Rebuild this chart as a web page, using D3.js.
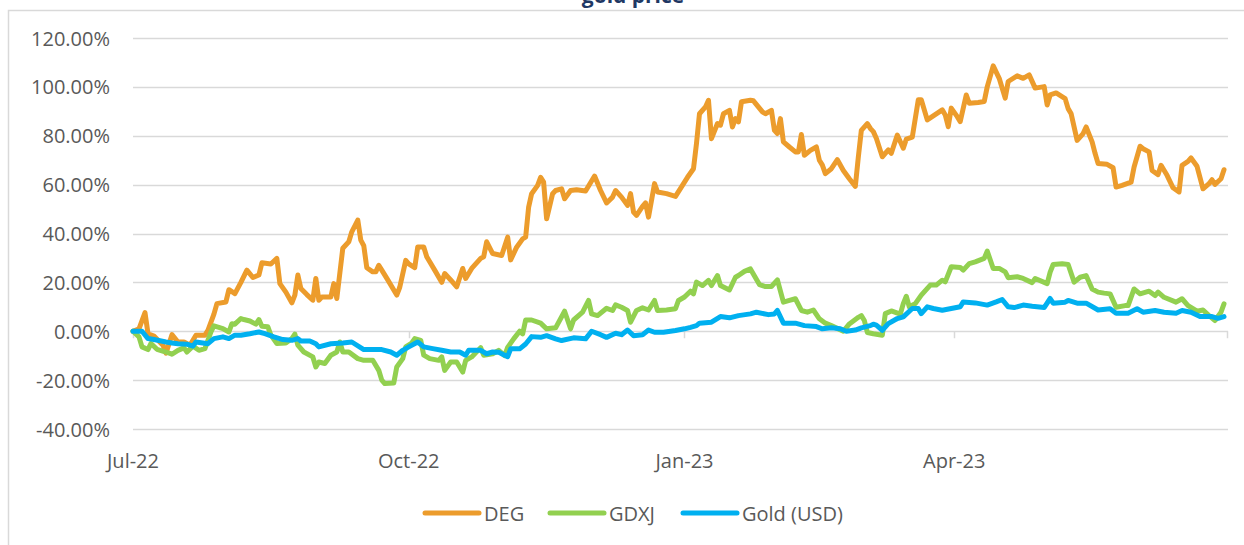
<!DOCTYPE html>
<html>
<head>
<meta charset="utf-8">
<script src="https://cdn.jsdelivr.net/npm/d3@7"></script>
<style>
  html, body { margin: 0; padding: 0; background: #fff; }
  svg { display: block; font-family: "Open Sans", sans-serif; }
</style>
</head>
<body>
<svg width="1244" height="545"></svg>
<script>
// cumulative return (%) since 1 Jul 2022
const deg = [
  ["2022-07-01", 0], ["2022-07-03", 1], ["2022-07-05", 7.6], ["2022-07-06", -1], ["2022-07-08", -2],
  ["2022-07-11", -5.7], ["2022-07-12", -9], ["2022-07-14", -1.4], ["2022-07-16", -4.4], ["2022-07-18", -4.4],
  ["2022-07-20", -5.7], ["2022-07-22", -1.6], ["2022-07-25", -1.6], ["2022-07-26", 0.4], ["2022-07-28", 7],
  ["2022-07-29", 11.3], ["2022-08-01", 12], ["2022-08-02", 17], ["2022-08-04", 15.4], ["2022-08-06", 20],
  ["2022-08-08", 25], ["2022-08-10", 22], ["2022-08-12", 23], ["2022-08-13", 28], ["2022-08-16", 27.5],
  ["2022-08-18", 29.8], ["2022-08-19", 19.5], ["2022-08-21", 16], ["2022-08-23", 11.6], ["2022-08-24", 14.8],
  ["2022-08-25", 23], ["2022-08-26", 17.5], ["2022-08-28", 15], ["2022-08-30", 12.7], ["2022-08-31", 21.6],
  ["2022-09-01", 12.7], ["2022-09-02", 14], ["2022-09-05", 14], ["2022-09-06", 19.5], ["2022-09-07", 13.4],
  ["2022-09-09", 34], ["2022-09-11", 36.6], ["2022-09-12", 40.7], ["2022-09-14", 45.5], ["2022-09-15", 37.3],
  ["2022-09-16", 35], ["2022-09-17", 26], ["2022-09-19", 24.3], ["2022-09-20", 24.3], ["2022-09-21", 27],
  ["2022-09-22", 25], ["2022-09-24", 21], ["2022-09-27", 14.8], ["2022-09-28", 18], ["2022-09-30", 29],
  ["2022-10-01", 27.6], ["2022-10-03", 26], ["2022-10-04", 34.5], ["2022-10-06", 34.5], ["2022-10-07", 30.5],
  ["2022-10-08", 28.4], ["2022-10-10", 24.3], ["2022-10-12", 20], ["2022-10-13", 23.6], ["2022-10-15", 21],
  ["2022-10-17", 18.2], ["2022-10-19", 25.7], ["2022-10-20", 21.6], ["2022-10-22", 25.7], ["2022-10-25", 29.8],
  ["2022-10-26", 30.5], ["2022-10-27", 36.6], ["2022-10-29", 31.8], ["2022-11-01", 31], ["2022-11-03", 38.5],
  ["2022-11-04", 29.2], ["2022-11-06", 34.4], ["2022-11-08", 37.8], ["2022-11-09", 38.5], ["2022-11-10", 50.8],
  ["2022-11-11", 56.3], ["2022-11-13", 59.7], ["2022-11-14", 63], ["2022-11-15", 61], ["2022-11-16", 46],
  ["2022-11-18", 56.3], ["2022-11-19", 57.6], ["2022-11-21", 58.3], ["2022-11-22", 54.2], ["2022-11-24", 57.6],
  ["2022-11-26", 57.9], ["2022-11-29", 57.4], ["2022-12-02", 63.5], ["2022-12-04", 57.6], ["2022-12-06", 52.5],
  ["2022-12-08", 54.9], ["2022-12-09", 57.6], ["2022-12-11", 54.9], ["2022-12-13", 51.5], ["2022-12-14", 56.3],
  ["2022-12-15", 48.8], ["2022-12-16", 47.4], ["2022-12-18", 51.1], ["2022-12-19", 52.5], ["2022-12-20", 46.7],
  ["2022-12-22", 60.4], ["2022-12-23", 57], ["2022-12-26", 56.3], ["2022-12-29", 55.2], ["2023-01-02", 63],
  ["2023-01-04", 66.5], ["2023-01-05", 76.8], ["2023-01-06", 89], ["2023-01-08", 91.8], ["2023-01-09", 94.5],
  ["2023-01-10", 78.8], ["2023-01-12", 85], ["2023-01-13", 84.3], ["2023-01-14", 89], ["2023-01-16", 90.4],
  ["2023-01-17", 83.6], ["2023-01-18", 87], ["2023-01-19", 85.7], ["2023-01-20", 93.9], ["2023-01-23", 94.5],
  ["2023-01-24", 94.3], ["2023-01-27", 89.8], ["2023-01-28", 89], ["2023-01-30", 90.4], ["2023-01-31", 82.2],
  ["2023-02-01", 80.9], ["2023-02-02", 87], ["2023-02-03", 77.5], ["2023-02-05", 75.4], ["2023-02-07", 73.4],
  ["2023-02-08", 73.4], ["2023-02-09", 80.5], ["2023-02-10", 72], ["2023-02-12", 74], ["2023-02-14", 75.4],
  ["2023-02-15", 70], ["2023-02-16", 68], ["2023-02-17", 64.5], ["2023-02-19", 66.5], ["2023-02-21", 70.2],
  ["2023-02-23", 65.8], ["2023-02-25", 62.4], ["2023-02-27", 59.3], ["2023-02-28", 71.3], ["2023-03-01", 82.2],
  ["2023-03-03", 85], ["2023-03-04", 83], ["2023-03-05", 81.7], ["2023-03-06", 79], ["2023-03-08", 71.4],
  ["2023-03-10", 74.2], ["2023-03-11", 72.8], ["2023-03-13", 80.3], ["2023-03-15", 74.9], ["2023-03-16", 78.6],
  ["2023-03-18", 79.4], ["2023-03-20", 94.7], ["2023-03-21", 94.7], ["2023-03-23", 86.5], ["2023-03-25", 88.1],
  ["2023-03-28", 90.6], ["2023-03-29", 88.5], ["2023-03-30", 83.7], ["2023-03-31", 91.3], ["2023-04-02", 87.8],
  ["2023-04-03", 85.8], ["2023-04-05", 96.7], ["2023-04-06", 93.3], ["2023-04-09", 93.6], ["2023-04-11", 94],
  ["2023-04-12", 100], ["2023-04-14", 108.6], ["2023-04-16", 103.5], ["2023-04-18", 95.4], ["2023-04-19", 102.2],
  ["2023-04-22", 104.5], ["2023-04-24", 103.5], ["2023-04-26", 104.9], ["2023-04-28", 99.5], ["2023-05-01", 100.1],
  ["2023-05-02", 92.6], ["2023-05-03", 96.7], ["2023-05-05", 97.5], ["2023-05-08", 95.2], ["2023-05-09", 91.1],
  ["2023-05-10", 89], ["2023-05-12", 78.1], ["2023-05-14", 80.9], ["2023-05-15", 83.6], ["2023-05-17", 77.5],
  ["2023-05-18", 72.7], ["2023-05-19", 68.6], ["2023-05-22", 68.3], ["2023-05-24", 66.9], ["2023-05-25", 59],
  ["2023-05-27", 59.7], ["2023-05-30", 61], ["2023-05-31", 67.2], ["2023-06-02", 75.7], ["2023-06-03", 74.7],
  ["2023-06-05", 73.4], ["2023-06-06", 65.8], ["2023-06-08", 64.1], ["2023-06-09", 67.9], ["2023-06-11", 63.8],
  ["2023-06-13", 58.7], ["2023-06-15", 57], ["2023-06-16", 67.9], ["2023-06-18", 69.5], ["2023-06-19", 70.9],
  ["2023-06-21", 67.5], ["2023-06-23", 58.3], ["2023-06-25", 60.4], ["2023-06-26", 62], ["2023-06-27", 60.1],
  ["2023-06-29", 62.4], ["2023-06-30", 66.1]
];

const gdxj = [
  ["2022-07-01", 0], ["2022-07-03", -2.3], ["2022-07-04", -6.4], ["2022-07-06", -7.5], ["2022-07-07", -5],
  ["2022-07-09", -7.4], ["2022-07-12", -8.5], ["2022-07-14", -9.4], ["2022-07-16", -7.8], ["2022-07-18", -6.8],
  ["2022-07-19", -8.5], ["2022-07-21", -6.1], ["2022-07-23", -7.8], ["2022-07-25", -7.1], ["2022-07-27", -0.3],
  ["2022-07-28", 2.2], ["2022-07-31", 1.1], ["2022-08-02", -0.3], ["2022-08-03", 3.1], ["2022-08-04", 2.9],
  ["2022-08-06", 5.2], ["2022-08-07", 4.8], ["2022-08-09", 4.2], ["2022-08-11", 2.9], ["2022-08-12", 4.8],
  ["2022-08-13", 2], ["2022-08-15", 1.8], ["2022-08-16", -1.6], ["2022-08-18", -5], ["2022-08-21", -4.8],
  ["2022-08-23", -3], ["2022-08-24", -1.2], ["2022-08-25", -5.7], ["2022-08-27", -8.5], ["2022-08-30", -10.5],
  ["2022-08-31", -14.6], ["2022-09-01", -12.6], ["2022-09-03", -13.2], ["2022-09-05", -9.8], ["2022-09-07", -8.5],
  ["2022-09-08", -4.4], ["2022-09-09", -8.5], ["2022-09-11", -8.5], ["2022-09-14", -11.2], ["2022-09-16", -11.9],
  ["2022-09-19", -11.9], ["2022-09-21", -16], ["2022-09-22", -20], ["2022-09-23", -21.4], ["2022-09-26", -21.2],
  ["2022-09-27", -14.6], ["2022-09-29", -11.2], ["2022-09-30", -6.4], ["2022-10-02", -4.8], ["2022-10-03", -3],
  ["2022-10-05", -3.7], ["2022-10-06", -9.8], ["2022-10-08", -11.2], ["2022-10-11", -11.9], ["2022-10-12", -10.5],
  ["2022-10-13", -16], ["2022-10-15", -12.6], ["2022-10-17", -12.6], ["2022-10-19", -16.7], ["2022-10-20", -11.9],
  ["2022-10-22", -10.5], ["2022-10-25", -6.7], ["2022-10-26", -9.8], ["2022-10-29", -9.2], ["2022-10-31", -7.8],
  ["2022-11-02", -10], ["2022-11-03", -6.6], ["2022-11-05", -3.1], ["2022-11-07", 0], ["2022-11-08", -1.1],
  ["2022-11-09", 4.6], ["2022-11-11", 4.6], ["2022-11-14", 3.3], ["2022-11-16", 1], ["2022-11-19", 1.4],
  ["2022-11-22", 8.2], ["2022-11-24", 1], ["2022-11-25", 4.6], ["2022-11-28", 7.8], ["2022-11-30", 12.6],
  ["2022-12-01", 7.1], ["2022-12-03", 6.4], ["2022-12-06", 9.4], ["2022-12-08", 8.5], ["2022-12-09", 10.8],
  ["2022-12-11", 9.8], ["2022-12-13", 8.5], ["2022-12-14", 3.7], ["2022-12-16", 8.5], ["2022-12-18", 9.6],
  ["2022-12-20", 8.7], ["2022-12-22", 12.6], ["2022-12-23", 8.5], ["2022-12-26", 8.7], ["2022-12-29", 9.2],
  ["2022-12-30", 12.6], ["2023-01-01", 14], ["2023-01-03", 16.4], ["2023-01-04", 15.3], ["2023-01-05", 20.1],
  ["2023-01-07", 18.7], ["2023-01-09", 20.8], ["2023-01-10", 18.7], ["2023-01-12", 22.8], ["2023-01-13", 18.7],
  ["2023-01-16", 16.9], ["2023-01-18", 22.1], ["2023-01-19", 22.8], ["2023-01-21", 24.5], ["2023-01-23", 25.5],
  ["2023-01-26", 19.1], ["2023-01-28", 18.3], ["2023-01-30", 18.3], ["2023-02-01", 21], ["2023-02-03", 11.9],
  ["2023-02-05", 12.6], ["2023-02-07", 13.3], ["2023-02-09", 8.5], ["2023-02-11", 7.8], ["2023-02-13", 8.7],
  ["2023-02-15", 5.1], ["2023-02-17", 3.3], ["2023-02-19", 2.3], ["2023-02-23", 0], ["2023-02-25", 3],
  ["2023-02-28", 5.7], ["2023-03-01", 6.4], ["2023-03-02", 4.4], ["2023-03-03", -0.5], ["2023-03-05", -1],
  ["2023-03-08", -1.6], ["2023-03-09", 7.2], ["2023-03-11", 8.3], ["2023-03-14", 7], ["2023-03-15", 11.3],
  ["2023-03-16", 14.3], ["2023-03-17", 10], ["2023-03-19", 11.3], ["2023-03-21", 14.8], ["2023-03-24", 18.9],
  ["2023-03-26", 18.9], ["2023-03-28", 20.9], ["2023-03-29", 20.2], ["2023-03-31", 26.4], ["2023-04-03", 26.1],
  ["2023-04-04", 25], ["2023-04-06", 27.7], ["2023-04-08", 28.4], ["2023-04-11", 29.8], ["2023-04-12", 32.8],
  ["2023-04-14", 25.7], ["2023-04-16", 25.7], ["2023-04-18", 24.3], ["2023-04-19", 21.9], ["2023-04-22", 22.3],
  ["2023-04-24", 21.6], ["2023-04-27", 19.9], ["2023-04-28", 21.6], ["2023-05-02", 19.5], ["2023-05-03", 24.2],
  ["2023-05-04", 27.3], ["2023-05-07", 27.6], ["2023-05-09", 27.3], ["2023-05-11", 20.1], ["2023-05-13", 22.1],
  ["2023-05-15", 22.8], ["2023-05-17", 17.3], ["2023-05-19", 16], ["2023-05-21", 15.6], ["2023-05-23", 15.3],
  ["2023-05-25", 9.8], ["2023-05-28", 10.5], ["2023-05-29", 10.5], ["2023-05-31", 17.3], ["2023-06-02", 15.3],
  ["2023-06-05", 16.4], ["2023-06-07", 14.6], ["2023-06-08", 16], ["2023-06-10", 13.9], ["2023-06-14", 11.9],
  ["2023-06-16", 13.3], ["2023-06-18", 10.5], ["2023-06-21", 8.2], ["2023-06-23", 8.7], ["2023-06-25", 6.4],
  ["2023-06-27", 4.4], ["2023-06-29", 7.8], ["2023-06-30", 11.2]
];

const goldUsd = [
  ["2022-07-01", 0], ["2022-07-04", 0], ["2022-07-06", -3], ["2022-07-08", -3.4], ["2022-07-12", -4.4],
  ["2022-07-14", -4.8], ["2022-07-16", -5.1], ["2022-07-19", -5.3], ["2022-07-21", -6.1], ["2022-07-22", -4.4],
  ["2022-07-26", -5.1], ["2022-07-28", -3], ["2022-07-31", -2.3], ["2022-08-02", -3], ["2022-08-04", -1.6],
  ["2022-08-06", -1.6], ["2022-08-09", -1], ["2022-08-12", -0.3], ["2022-08-14", -1], ["2022-08-17", -2.3],
  ["2022-08-20", -3.4], ["2022-08-23", -3.7], ["2022-08-25", -3], ["2022-08-26", -4], ["2022-08-29", -4],
  ["2022-08-31", -5.1], ["2022-09-01", -6.4], ["2022-09-05", -5.1], ["2022-09-09", -4.8], ["2022-09-12", -4.4],
  ["2022-09-16", -7.5], ["2022-09-22", -7.5], ["2022-09-25", -8.5], ["2022-09-27", -9.8], ["2022-09-29", -7.8],
  ["2022-10-01", -6.4], ["2022-10-04", -4.4], ["2022-10-06", -6.4], ["2022-10-09", -7.1], ["2022-10-12", -7.8],
  ["2022-10-15", -8.5], ["2022-10-18", -8.5], ["2022-10-20", -9.8], ["2022-10-21", -7.8], ["2022-10-25", -7.8],
  ["2022-10-27", -9.2], ["2022-10-29", -8.5], ["2022-10-31", -8.6], ["2022-11-03", -10.4], ["2022-11-04", -7.2],
  ["2022-11-07", -7.2], ["2022-11-09", -5.2], ["2022-11-11", -2.2], ["2022-11-14", -2.5], ["2022-11-16", -1.8],
  ["2022-11-19", -3.1], ["2022-11-21", -3.8], ["2022-11-25", -2.7], ["2022-11-29", -3.1], ["2022-12-01", 0],
  ["2022-12-04", -1.4], ["2022-12-06", -2.5], ["2022-12-09", -0.8], ["2022-12-11", -1.4], ["2022-12-13", 0.5],
  ["2022-12-15", -1.8], ["2022-12-18", -1.4], ["2022-12-20", 0.5], ["2022-12-22", -0.4], ["2022-12-25", -0.4],
  ["2022-12-29", 0.3], ["2023-01-01", 1], ["2023-01-03", 1.6], ["2023-01-05", 2.3], ["2023-01-06", 3.3],
  ["2023-01-10", 3.7], ["2023-01-13", 6], ["2023-01-16", 5.5], ["2023-01-19", 6.4], ["2023-01-23", 7.1],
  ["2023-01-25", 7.8], ["2023-01-29", 6.8], ["2023-01-31", 7.1], ["2023-02-01", 8.5], ["2023-02-03", 3.3],
  ["2023-02-07", 3.3], ["2023-02-10", 2.3], ["2023-02-14", 1.9], ["2023-02-16", 1], ["2023-02-19", 1.4],
  ["2023-02-22", 1], ["2023-02-24", 0], ["2023-02-27", 0.5], ["2023-03-01", 1.4], ["2023-03-04", 2.3],
  ["2023-03-05", 2.9], ["2023-03-06", 2.5], ["2023-03-08", 0.4], ["2023-03-10", 3.1], ["2023-03-13", 5.2],
  ["2023-03-15", 5.9], ["2023-03-18", 9.3], ["2023-03-20", 9.3], ["2023-03-21", 7.2], ["2023-03-23", 10],
  ["2023-03-25", 9.3], ["2023-03-28", 8.6], ["2023-03-31", 9.3], ["2023-04-03", 10], ["2023-04-04", 12],
  ["2023-04-08", 11.6], ["2023-04-12", 10.7], ["2023-04-15", 12], ["2023-04-17", 13], ["2023-04-19", 10],
  ["2023-04-21", 9.7], ["2023-04-24", 10.7], ["2023-04-27", 10.2], ["2023-05-01", 9.7], ["2023-05-03", 13.4],
  ["2023-05-04", 11.5], ["2023-05-08", 11.9], ["2023-05-09", 12.6], ["2023-05-12", 11.5], ["2023-05-15", 11.5],
  ["2023-05-19", 8.7], ["2023-05-23", 9.2], ["2023-05-25", 7.4], ["2023-05-29", 7.4], ["2023-06-01", 9.2],
  ["2023-06-03", 7.8], ["2023-06-07", 8.5], ["2023-06-10", 7.8], ["2023-06-14", 7.4], ["2023-06-16", 8.5],
  ["2023-06-19", 7.8], ["2023-06-22", 6], ["2023-06-26", 6], ["2023-06-28", 5.3], ["2023-06-30", 6]
];

const seriesNames = ["DEG", "GDXJ", "Gold (USD)"];
const seriesColors = ["#EC9C2C", "#92D050", "#00B0F0"];
const yTicks = [-40, -20, 0, 20, 40, 60, 80, 100, 120];
const xTicks = ["2022-07-01", "2022-10-01", "2023-01-01", "2023-04-01", "2023-07-01"];
const xTickLabels = ["Jul-22", "Oct-22", "Jan-23", "Apr-23"];

(function () {
  "use strict";
  const svg = d3.select("svg");
  const parse = d3.timeParse("%Y-%m-%d");
  const textColor = "#595959";
  const gridColor = "#d9d9d9";

  // chart frame
  svg.append("rect")
    .attr("x", 8.5).attr("y", 10.5)
    .attr("width", 1300).attr("height", 600)
    .attr("fill", "none").attr("stroke", gridColor).attr("stroke-width", 1.5);

  // title, cropped at the top edge as in the source
  svg.append("text")
    .attr("x", 633).attr("y", 3)
    .attr("text-anchor", "middle")
    .attr("font-size", 21).attr("font-weight", "bold")
    .attr("fill", "#1F3864")
    .text("gold price");

  const x = d3.scaleTime()
    .domain([parse(xTicks[0]), parse(xTicks[xTicks.length - 1])])
    .range([133, 1227]);
  const y = d3.scaleLinear().domain([-40, 120]).range([429, 38]);

  // gridlines
  svg.append("g")
    .selectAll("line")
    .data(yTicks)
    .join("line")
    .attr("x1", 133).attr("x2", 1228)
    .attr("y1", d => Math.round(y(d)) + 0.5).attr("y2", d => Math.round(y(d)) + 0.5)
    .attr("stroke", gridColor).attr("stroke-width", 1.5);

  // y labels (plain hyphen for negatives, like Excel)
  svg.append("g")
    .selectAll("text")
    .data(yTicks)
    .join("text")
    .attr("x", 110).attr("y", d => y(d))
    .attr("text-anchor", "end")
    .attr("dominant-baseline", "central")
    .attr("font-size", 20).attr("fill", textColor)
    .text(d => d.toFixed(2) + "%");

  // category axis ticks at 0%
  svg.append("g")
    .selectAll("line")
    .data(xTicks)
    .join("line")
    .attr("x1", d => Math.round(x(parse(d))) + 0.5).attr("x2", d => Math.round(x(parse(d))) + 0.5)
    .attr("y1", y(0)).attr("y2", y(0) + 7)
    .attr("stroke", gridColor).attr("stroke-width", 1.5);

  svg.append("g")
    .selectAll("text")
    .data(xTickLabels)
    .join("text")
    .attr("x", (d, i) => x(parse(xTicks[i])))
    .attr("y", 468)
    .attr("text-anchor", "middle")
    .attr("font-size", 20).attr("fill", textColor)
    .text(d => d);

  const line = d3.line()
    .x(d => x(parse(d[0])))
    .y(d => y(d[1]));

  [deg, gdxj, goldUsd].forEach((s, i) => {
    svg.append("path")
      .attr("d", line(s))
      .attr("fill", "none")
      .attr("stroke", seriesColors[i])
      .attr("stroke-width", 5)
      .attr("stroke-linejoin", "round")
      .attr("stroke-linecap", "round");
  });

  // legend
  const legendX = [425, 550, 683];
  const legend = svg.append("g")
    .selectAll("g")
    .data(seriesNames)
    .join("g")
    .attr("transform", (d, i) => `translate(${legendX[i]}, 513)`);
  legend.append("line")
    .attr("x1", 0).attr("x2", 54)
    .attr("stroke", (d, i) => seriesColors[i])
    .attr("stroke-width", 5)
    .attr("stroke-linecap", "round");
  legend.append("text")
    .attr("x", 59)
    .attr("dominant-baseline", "central")
    .attr("font-size", 20).attr("fill", textColor)
    .text(d => d);
})(d3);
</script>
</body>
</html>
